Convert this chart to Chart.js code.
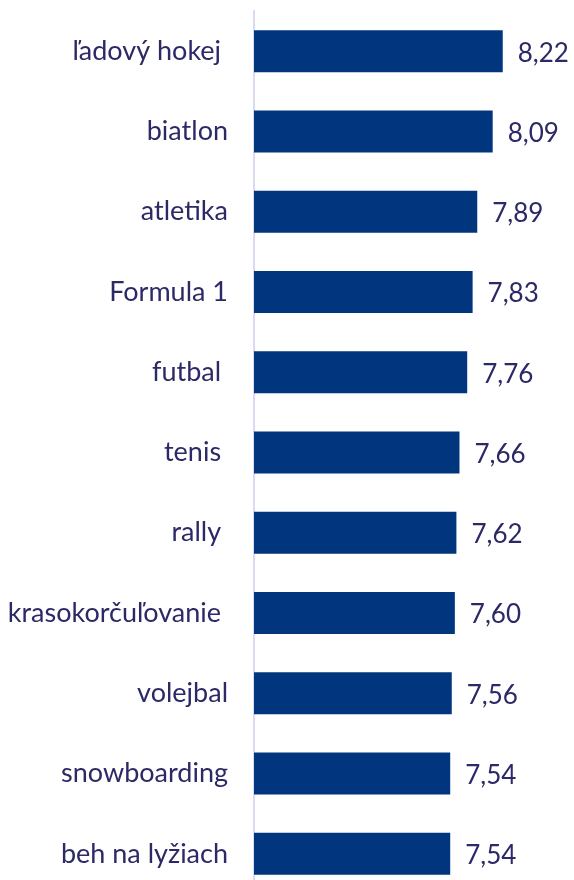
<!DOCTYPE html>
<html>
<head>
<meta charset="utf-8">
<script src="https://cdn.jsdelivr.net/npm/chart.js@4.4.1/dist/chart.umd.min.js"></script>
<style>
  html, body { margin: 0; padding: 0; background: #fff; overflow: hidden; }
  canvas { display: block; }
</style>
</head>
<body>
<canvas id="chart" width="574" height="894"></canvas>
<script>
// Sports and their average ratings
const sports = ['ľadový hokej ', 'biatlon', 'atletika', 'Formula 1', 'futbal ', 'tenis ', 'rally ',
  'krasokorčuľovanie ', 'volejbal', 'snowboarding', 'beh na lyžiach'];
const ratings = [8.22, 8.09, 7.89, 7.83, 7.76, 7.66, 7.62, 7.60, 7.56, 7.54, 7.54];

const textColor = '#2b2966';
const barColor = '#01367e';

// Draw value labels to the right of each bar
const valueLabels = {
  id: 'valueLabels',
  afterDatasetsDraw(chart) {
    const ctx = chart.ctx;
    const meta = chart.getDatasetMeta(0);
    ctx.save();
    ctx.font = '26px Lato';
    ctx.fillStyle = textColor;
    ctx.textAlign = 'left';
    ctx.textBaseline = 'middle';
    meta.data.forEach((bar, i) => {
      const text = ratings[i].toFixed(2).replace('.', ',');
      ctx.fillText(text, bar.x + 15, bar.y + 2);
    });
    ctx.restore();
  }
};

new Chart(document.getElementById('chart').getContext('2d'), {
  type: 'bar',
  data: {
    labels: sports,
    datasets: [{
      data: ratings,
      backgroundColor: barColor,
      borderWidth: 0,
      categoryPercentage: 1,
      barPercentage: 0.523
    }]
  },
  options: {
    indexAxis: 'y',
    responsive: false,
    animation: false,
    devicePixelRatio: 1,
    layout: { padding: { top: 11, right: 11, bottom: 0, left: 0 } },
    plugins: {
      legend: { display: false },
      tooltip: { enabled: false }
    },
    scales: {
      x: {
        display: false,
        min: 5,
        max: 9
      },
      y: {
        afterFit(scale) {
          scale.width = 254;
          // no extra room above/below for the labels
          scale.paddingTop = 0;
          scale.paddingBottom = 0;
        },
        grid: { display: false, drawTicks: false },
        border: { display: true, color: '#dcdaf0', width: 2 },
        ticks: {
          color: textColor,
          padding: 26,
          font: { family: 'Lato', size: 27 }
        }
      }
    }
  },
  plugins: [valueLabels]
});
</script>
</body>
</html>
